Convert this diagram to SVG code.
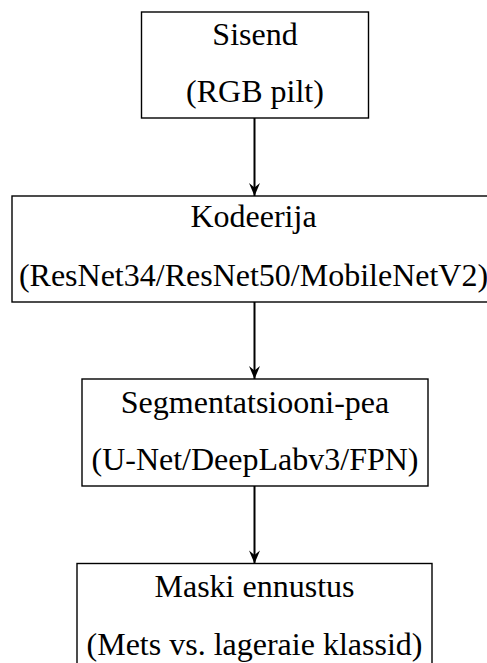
<svg xmlns="http://www.w3.org/2000/svg" width="487" height="663" viewBox="0 0 487 663">
  <defs>
    <marker id="arr" markerUnits="userSpaceOnUse" markerWidth="16" markerHeight="16" refX="0" refY="0" viewBox="-14 -8 16 16" orient="auto" overflow="visible">
      <path d="M 0 0 L -13 -5.5 L -8.5 0 L -13 5.5 Z" fill="#000"/>
    </marker>
  </defs>
  <style>
    .box { fill: #fff; stroke: #000; stroke-width: 1.4; }
    .t { font-family: "Liberation Serif", "Times New Roman", serif; font-size: 32px; fill: #000; text-anchor: middle; }
    .edge { stroke: #000; stroke-width: 2; fill: none; marker-end: url(#arr); }
  </style>
  <rect width="487" height="663" fill="#fff"/>
  <g id="connectors">
    <line class="edge" x1="254.5" y1="118" x2="254.5" y2="196"/>
    <line class="edge" x1="254.5" y1="302" x2="254.5" y2="379"/>
    <line class="edge" x1="254.5" y1="486" x2="254.5" y2="563.5"/>
  </g>
  <g id="sisend">
    <rect class="box" x="141.5" y="12" width="227" height="106"/>
    <text class="t" x="255" y="44.5">Sisend</text>
    <text class="t" x="255" y="102">(RGB pilt)</text>
  </g>
  <g id="kodeerija">
    <rect class="box" x="12" y="196" width="486" height="106"/>
    <text class="t" x="253.5" y="227">Kodeerija</text>
    <text class="t" x="253.5" y="286">(ResNet34/ResNet50/MobileNetV2)</text>
  </g>
  <g id="segmentatsioon">
    <rect class="box" x="82" y="379" width="346" height="107"/>
    <text class="t" x="255" y="412.5">Segmentatsiooni-pea</text>
    <text class="t" x="255" y="470">(U-Net/DeepLabv3/FPN)</text>
  </g>
  <g id="mask">
    <rect class="box" x="77" y="563.5" width="355" height="107"/>
    <text class="t" x="254.5" y="596.5">Maski ennustus</text>
    <text class="t" x="254.5" y="655">(Mets vs. lageraie klassid)</text>
  </g>
</svg>
